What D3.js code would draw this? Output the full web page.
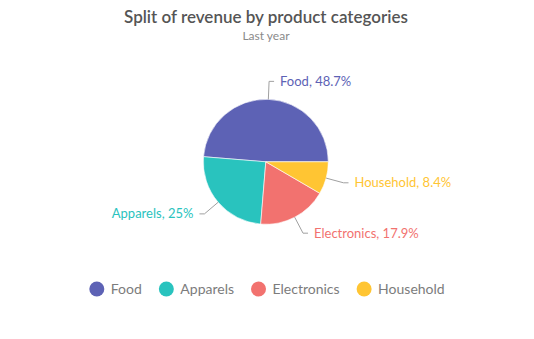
<!DOCTYPE html>
<html><head><meta charset="utf-8">
<script src="https://cdn.jsdelivr.net/npm/d3@7"></script>
<style>
html,body{margin:0;padding:0;background:#fff;}
svg{display:block;font-family:"Source Sans Pro",Lato,"Open Sans",sans-serif;}
</style></head>
<body><svg id="chart" width="534" height="339"></svg>
<script>
const categories = ["Food", "Apparels", "Electronics", "Household"];
const values = [48.7, 25, 17.9, 8.4];
const colors = ["#5D62B5", "#29C3BE", "#F2726F", "#FFC533"];
const titleText = "Split of revenue by product categories";
const subtitleText = "Last year";

const W = 534, H = 339;
const svg = d3.select("#chart");

svg.append("text").attr("x", 266).attr("y", 23).attr("text-anchor", "middle")
  .attr("font-size", 17).attr("font-weight", 600).attr("fill", "#555555").text(titleText);
svg.append("text").attr("x", 266).attr("y", 40).attr("text-anchor", "middle")
  .attr("font-size", 12).attr("fill", "#8A8A8A").text(subtitleText);

const cx = 265.8, cy = 161.8, R = 62.5;
const data = categories.map((c, i) => ({ name: c, value: values[i], color: colors[i] }));
const pie = d3.pie().value(d => d.value).sort(null)
  .startAngle(Math.PI / 2).endAngle(Math.PI / 2 - 2 * Math.PI);
const arcs = pie(data);
const arc = d3.arc().innerRadius(0).outerRadius(R);

const g = svg.append("g").attr("transform", `translate(${cx},${cy})`);
g.selectAll("path.slice").data(arcs).join("path").attr("class", "slice")
  .attr("d", arc).attr("fill", d => d.data.color)
  .attr("stroke", "#fff").attr("stroke-width", 0.6);

const radial = 18, horiz = 5, gap = 6;
arcs.forEach(a => {
  const m = (a.startAngle + a.endAngle) / 2;
  const sx = Math.sin(m), sy = -Math.cos(m);
  const p0 = [R * sx, R * sy];
  const p1 = [(R + radial) * sx, (R + radial) * sy];
  const right = sx >= 0;
  const p2 = [p1[0] + (right ? horiz : -horiz), p1[1]];
  g.append("polyline").attr("points", [p0, p1, p2].map(p => p.join(",")).join(" "))
    .attr("fill", "none").attr("stroke", "#A0A0A0").attr("stroke-width", 1);
  g.append("text").attr("x", p2[0] + (right ? gap : -gap)).attr("y", p2[1])
    .attr("dy", "0.35em").attr("text-anchor", right ? "start" : "end")
    .attr("font-size", 13).attr("fill", a.data.color)
    .text(`${a.data.name}, ${a.data.value}%`);
});

// legend
const lg = svg.append("g");
const items = lg.selectAll("g").data(data).join("g");
items.append("circle").attr("r", 7.5).attr("cx", 7.5).attr("cy", 0).attr("fill", d => d.color);
items.append("text").attr("x", 21.5).attr("y", 0).attr("dy", "0.35em")
  .attr("font-size", 14).attr("fill", "#7C7C7C").text(d => d.name);
let x = 0;
const widths = [];
items.each(function () { widths.push(this.querySelector("text").getComputedTextLength()); });
const offs = widths.map(w => { const o = x; x += 21.5 + w + 17; return o; });
const total = x - 17;
const lx = (W - total) / 2;
items.attr("transform", (d, i) => `translate(${lx + offs[i]},289)`);
</script></body></html>
